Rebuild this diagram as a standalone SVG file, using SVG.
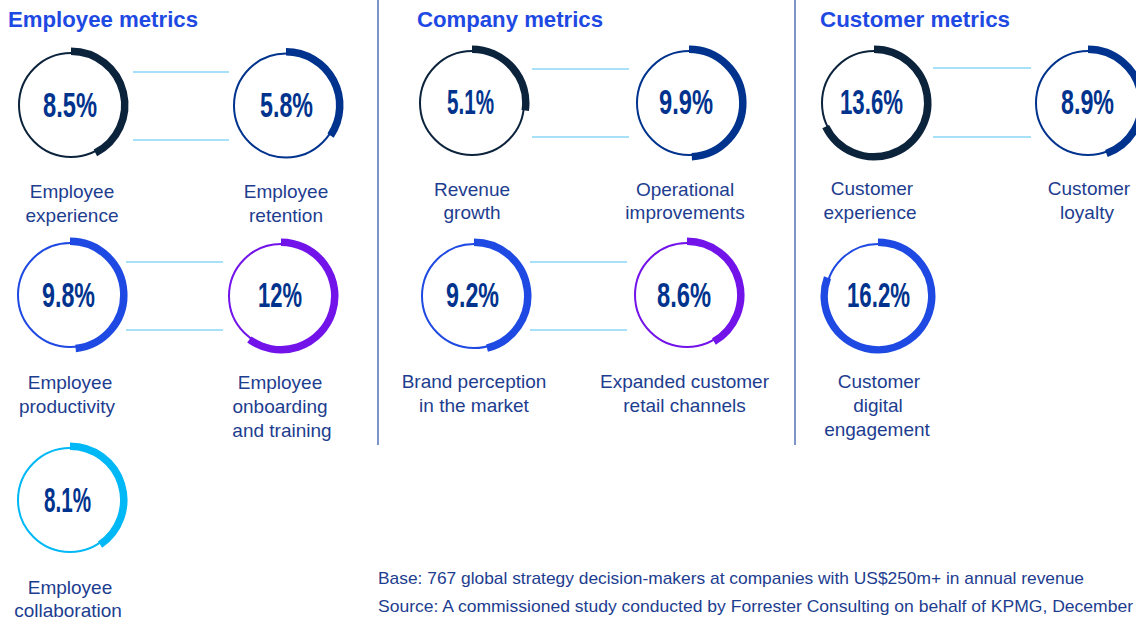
<svg xmlns="http://www.w3.org/2000/svg" width="1136" height="623" viewBox="0 0 1136 623">
<style>
.bg{fill:#ffffff}
.ring{fill:none;stroke-width:2}
.arc{fill:none;stroke-width:7.5;stroke-linecap:butt}
.navy{stroke:#0c233c}
.kblue{stroke:#00338d}
.bright{stroke:#1e49e2}
.purple{stroke:#7213ea}
.cyan{stroke:#00b8f5}
.num{font-family:"Liberation Sans",Arial,sans-serif;font-weight:bold;font-size:35px;fill:#00338d;text-anchor:middle}
.lbl{font-family:"Liberation Sans",Arial,sans-serif;font-size:19px;fill:#1d3d8f;text-anchor:middle}
.head{font-family:"Liberation Sans",Arial,sans-serif;font-weight:bold;font-size:22px;fill:#1e49e2}
.foot{font-family:"Liberation Sans",Arial,sans-serif;font-size:17px;fill:#1d3d8f}
.conn line{stroke:#8ad6f7;stroke-width:1.5}
.div{stroke:#5272b6;stroke-width:1.5}
</style>
<rect class="bg" x="0" y="0" width="1136" height="623"/>

<g id="dividers">
<line class="div" x1="378" y1="0" x2="378" y2="445"/>
<line class="div" x1="795" y1="0" x2="795" y2="445"/>
</g>

<g id="headings">
<text class="head" x="8" y="27" textLength="190" lengthAdjust="spacingAndGlyphs">Employee metrics</text>
<text class="head" x="417" y="27" textLength="186" lengthAdjust="spacingAndGlyphs">Company metrics</text>
<text class="head" x="820" y="27" textLength="190" lengthAdjust="spacingAndGlyphs">Customer metrics</text>
</g>

<g id="connectors" class="conn">
<line x1="133" y1="72" x2="229" y2="72"/>
<line x1="133" y1="140" x2="229" y2="140"/>
<line x1="126" y1="262" x2="223" y2="262"/>
<line x1="126" y1="330" x2="223" y2="330"/>
<line x1="532" y1="69" x2="629" y2="69"/>
<line x1="532" y1="137" x2="629" y2="137"/>
<line x1="530" y1="262" x2="627" y2="262"/>
<line x1="530" y1="330" x2="627" y2="330"/>
<line x1="933" y1="68" x2="1031" y2="68"/>
<line x1="933" y1="137" x2="1031" y2="137"/>
</g>

<g id="employee-experience">
<circle class="ring navy" cx="71" cy="105" r="52"/>
<path class="arc navy" d="M71 51.25 A53.75 53.75 0 0 1 95.40 152.89"/>
<text class="num" x="70" y="117" textLength="54" lengthAdjust="spacingAndGlyphs">8.5%</text>
<text class="lbl" x="72" y="198">Employee</text>
<text class="lbl" x="72" y="222">experience</text>
</g>

<g id="employee-retention">
<circle class="ring kblue" cx="286" cy="105.5" r="52"/>
<path class="arc kblue" d="M286 51.75 A53.75 53.75 0 0 1 330.56 135.56"/>
<text class="num" x="286.5" y="116.5" textLength="53" lengthAdjust="spacingAndGlyphs">5.8%</text>
<text class="lbl" x="286" y="198">Employee</text>
<text class="lbl" x="286" y="222">retention</text>
</g>

<g id="employee-productivity">
<circle class="ring bright" cx="70" cy="295" r="52"/>
<path class="arc bright" d="M70 241.25 A53.75 53.75 0 0 1 75.62 348.46"/>
<text class="num" x="68.5" y="307" textLength="53" lengthAdjust="spacingAndGlyphs">9.8%</text>
<text class="lbl" x="70" y="389">Employee</text>
<text class="lbl" x="67" y="413">productivity</text>
</g>

<g id="employee-onboarding">
<circle class="ring purple" cx="281" cy="296" r="52"/>
<path class="arc purple" d="M281 242.25 A53.75 53.75 0 1 1 249.41 339.48"/>
<text class="num" x="280" y="306.5" textLength="44" lengthAdjust="spacingAndGlyphs">12%</text>
<text class="lbl" x="280" y="389">Employee</text>
<text class="lbl" x="280" y="413">onboarding</text>
<text class="lbl" x="282" y="437">and training</text>
</g>

<g id="employee-collaboration">
<circle class="ring cyan" cx="70" cy="500" r="52"/>
<path class="arc cyan" d="M70 446.25 A53.75 53.75 0 0 1 100.06 544.56"/>
<text class="num" x="67.5" y="512" textLength="47" lengthAdjust="spacingAndGlyphs">8.1%</text>
<text class="lbl" x="70" y="594">Employee</text>
<text class="lbl" x="68" y="617">collaboration</text>
</g>

<g id="revenue-growth">
<circle class="ring navy" cx="472" cy="103" r="52"/>
<path class="arc navy" d="M472 49.25 A53.75 53.75 0 0 1 525.23 110.48"/>
<text class="num" x="470.5" y="113.5" textLength="47" lengthAdjust="spacingAndGlyphs">5.1%</text>
<text class="lbl" x="472" y="196">Revenue</text>
<text class="lbl" x="472" y="219">growth</text>
</g>

<g id="operational-improvements">
<circle class="ring kblue" cx="689" cy="103" r="52"/>
<path class="arc kblue" d="M689 49.25 A53.75 53.75 0 0 1 691.81 156.68"/>
<text class="num" x="686" y="113.5" textLength="54" lengthAdjust="spacingAndGlyphs">9.9%</text>
<text class="lbl" x="685" y="196">Operational</text>
<text class="lbl" x="685" y="219">improvements</text>
</g>

<g id="brand-perception">
<circle class="ring bright" cx="474" cy="296" r="52"/>
<path class="arc bright" d="M474 242.25 A53.75 53.75 0 0 1 487.00 348.15"/>
<text class="num" x="472.5" y="307" textLength="53" lengthAdjust="spacingAndGlyphs">9.2%</text>
<text class="lbl" x="474" y="388">Brand perception</text>
<text class="lbl" x="474" y="412">in the market</text>
</g>

<g id="expanded-retail">
<circle class="ring purple" cx="687" cy="295" r="52"/>
<path class="arc purple" d="M687 241.25 A53.75 53.75 0 0 1 713.88 341.55"/>
<text class="num" x="684" y="307" textLength="54" lengthAdjust="spacingAndGlyphs">8.6%</text>
<text class="lbl" x="684.5" y="388">Expanded customer</text>
<text class="lbl" x="684.5" y="412">retail channels</text>
</g>

<g id="customer-experience">
<circle class="ring navy" cx="874" cy="103" r="52"/>
<path class="arc navy" d="M874 49.25 A53.75 53.75 0 1 1 825.69 126.56"/>
<text class="num" x="871.5" y="113.5" textLength="63" lengthAdjust="spacingAndGlyphs">13.6%</text>
<text class="lbl" x="872" y="195">Customer</text>
<text class="lbl" x="870" y="219">experience</text>
</g>

<g id="customer-loyalty">
<circle class="ring kblue" cx="1088" cy="103" r="52"/>
<path class="arc kblue" d="M1088 49.25 A53.75 53.75 0 0 1 1106.38 153.51"/>
<text class="num" x="1087.5" y="113.5" textLength="53" lengthAdjust="spacingAndGlyphs">8.9%</text>
<text class="lbl" x="1089" y="195">Customer</text>
<text class="lbl" x="1087" y="219">loyalty</text>
</g>

<g id="customer-digital">
<circle class="ring bright" cx="878" cy="296" r="52"/>
<path class="arc bright" d="M878 242.25 A53.75 53.75 0 1 1 827.49 277.62"/>
<text class="num" x="878.5" y="307" textLength="63" lengthAdjust="spacingAndGlyphs">16.2%</text>
<text class="lbl" x="879" y="388">Customer</text>
<text class="lbl" x="878" y="412">digital</text>
<text class="lbl" x="877" y="436">engagement</text>
</g>

<g id="footer">
<text class="foot" x="378" y="584" textLength="706" lengthAdjust="spacingAndGlyphs">Base: 767 global strategy decision-makers at companies with US$250m+ in annual revenue</text>
<text class="foot" x="378" y="612" textLength="755" lengthAdjust="spacingAndGlyphs">Source: A commissioned study conducted by Forrester Consulting on behalf of KPMG, December</text>
</g>
</svg>
